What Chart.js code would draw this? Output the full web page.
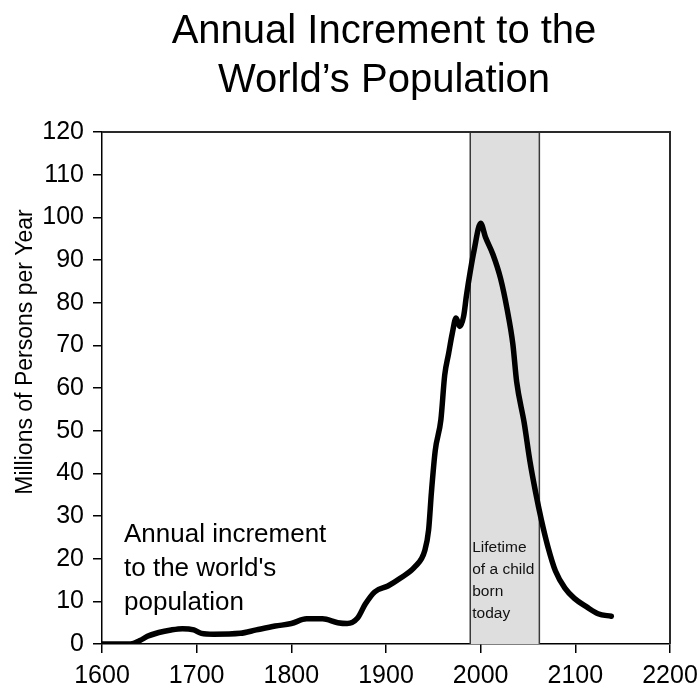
<!DOCTYPE html>
<html>
    <head>
        <title>Annual Increment to the World's Population</title>
        <meta charset="utf8">
        <script src="https://cdn.jsdelivr.net/npm/chart.js@4.4.1/dist/chart.umd.min.js"></script>
        <style>
                body{
                        margin: 0;
                        background-color: #ffffff;
                }
                .contenedor{
                        width: 699px;
                        height: 688px;
                }
        </style>
    </head>

    <body>
        <div class="contenedor">
                <canvas id="myChart" width="699" height="688"></canvas>
        </div>
	<script>

		// years and increment (millions of persons per year)
		var years = [1600, 1630, 1640, 1648, 1660, 1673, 1685, 1697, 1705, 1718, 1746, 1763, 1783, 1800,
			1816, 1833, 1849, 1859, 1870, 1878, 1888, 1902, 1915, 1931, 1941, 1945, 1948, 1952,
			1958, 1962, 1966, 1970, 1974, 1978, 1982, 1985, 1989, 1993, 2000, 2005, 2013, 2021,
			2028, 2034, 2038, 2046, 2052, 2058, 2064, 2071, 2079, 2089, 2099, 2112, 2124, 2138];
		var increment = [0, 0, 0.8, 1.8, 2.7, 3.3, 3.6, 3.3, 2.5, 2.3, 2.5, 3.3, 4.2, 4.8,
			5.9, 5.9, 5.0, 4.8, 6.1, 9.3, 12.2, 13.6, 15.4, 18.2, 21.9, 26.7, 35.6, 45.3,
			52.6, 63, 67.9, 72.8, 76.4, 74.4, 76.8, 81.7, 87.3, 92.2, 98.6, 95.4, 91.3, 85.7,
			78.4, 70.3, 61.5, 51.8, 42.9, 35.6, 29.2, 22.8, 17.1, 13.1, 10.7, 8.7, 7.1, 6.5];

		// lifetime of a child born today (start, end year)
		var lifetime = [1989, 2062];

		var xTicks = [1600, 1700, 1800, 1900, 2000, 2100, 2200];
		var yTicks = [0, 10, 20, 30, 40, 50, 60, 70, 80, 90, 100, 110, 120];

		var titleLines = ['Annual Increment to the', 'World\u2019s Population'];
		var yTitle = 'Millions of Persons per Year';
		var seriesNote = ['Annual increment', 'to the world\'s', 'population'];
		var bandNote = ['Lifetime', 'of a child', 'born', 'today'];

		var fuente = '"Liberation Sans", Arial, Helvetica, sans-serif';

		var puntos = years.map(function (y, i) { return { x: y, y: increment[i] }; });

		// shaded band, frame and texts
		const extras = {
			id: 'extras',
			beforeDatasetsDraw: function (chart) {
				var c = chart.ctx;
				var a = chart.chartArea;
				var sx = chart.scales.x;
				var x1 = sx.getPixelForValue(lifetime[0]);
				var x2 = sx.getPixelForValue(lifetime[1]);
				c.save();
				c.fillStyle = '#dedede';
				c.fillRect(x1, a.top, x2 - x1, a.bottom - a.top);
				c.strokeStyle = '#3a3a3a';
				c.lineWidth = 1.5;
				c.beginPath();
				c.moveTo(x1, a.top); c.lineTo(x1, a.bottom);
				c.moveTo(x2, a.top); c.lineTo(x2, a.bottom);
				c.stroke();

				c.fillStyle = '#111';
				c.font = '15.5px ' + fuente;
				c.textAlign = 'left';
				c.textBaseline = 'alphabetic';
				for (var i = 0; i < bandNote.length; i++) {
					c.fillText(bandNote[i], x1 + 2, 552 + i * 22);
				}
				c.restore();
			},
			afterDraw: function (chart) {
				var c = chart.ctx;
				var a = chart.chartArea;
				c.save();
				// top and right frame
				c.strokeStyle = '#2a2a2a';
				c.lineWidth = 2;
				c.beginPath();
				c.moveTo(a.left, a.top);
				c.lineTo(a.right, a.top);
				c.lineTo(a.right, a.bottom);
				c.stroke();

				// title
				c.fillStyle = '#000';
				c.textAlign = 'center';
				c.textBaseline = 'alphabetic';
				c.font = '40px ' + fuente;
				c.fillText(titleLines[0], 384, 43);
				c.fillText(titleLines[1], 384, 92);

				// note next to the curve
				c.textAlign = 'left';
				c.font = '26px ' + fuente;
				for (var i = 0; i < seriesNote.length; i++) {
					c.fillText(seriesNote[i], 124, 542 + i * 34);
				}

				// y axis title
				c.translate(32, 352);
				c.rotate(-Math.PI / 2);
				c.textAlign = 'center';
				c.font = '23px ' + fuente;
				c.fillText(yTitle, 0, 0);
				c.restore();
			}
		};

		const ctx = document.getElementById('myChart').getContext('2d');
		const myChart = new Chart(ctx, {
		    type: 'line',
		    data: {
			datasets: [{
			    label: 'Annual increment',
			    data: puntos,
			    borderColor: '#000000',
			    borderWidth: 5.5,
			    pointRadius: 0,
			    fill: false,
			    cubicInterpolationMode: 'monotone',
			    borderCapStyle: 'round',
			    borderJoinStyle: 'round'
			}]
		    },
		    options: {
			responsive: false,
			animation: false,
			layout: {
			    padding: { left: 0, top: 132, right: 29, bottom: 0 }
			},
			plugins: {
			    legend: { display: false },
			    title: { display: false },
			    tooltip: { enabled: false }
			},
			scales: {
			    x: {
				type: 'linear',
				min: 1600,
				max: 2200,
				afterBuildTicks: function (s) { s.ticks = xTicks.map(function (v) { return { value: v }; }); },
				afterFit: function (s) {
				    s.height = 44;
				    s.paddingLeft = 0;
				    s.paddingRight = 0;
				},
				grid: { display: true, drawOnChartArea: false, drawTicks: true, tickLength: 9, color: '#000', lineWidth: 1.5 },
				border: { display: true, color: '#000', width: 1.5 },
				ticks: {
				    color: '#000',
				    padding: 8,
				    maxRotation: 0,
				    font: { family: fuente, size: 25 },
				    callback: function (v) { return String(v); }
				}
			    },
			    y: {
				min: 0,
				max: 120,
				afterBuildTicks: function (s) { s.ticks = yTicks.map(function (v) { return { value: v }; }); },
				afterFit: function (s) {
				    s.width = 102;
				    s.paddingTop = 0;
				    s.paddingBottom = 0;
				},
				grid: { display: true, drawOnChartArea: false, drawTicks: true, tickLength: 9, color: '#000', lineWidth: 1.5 },
				border: { display: true, color: '#000', width: 1.5 },
				ticks: {
				    color: '#000',
				    padding: 9,
				    font: { family: fuente, size: 25 }
				}
			    }
			}
		    },
		    plugins: [extras]
		});
	</script>

    </body>
</html>
